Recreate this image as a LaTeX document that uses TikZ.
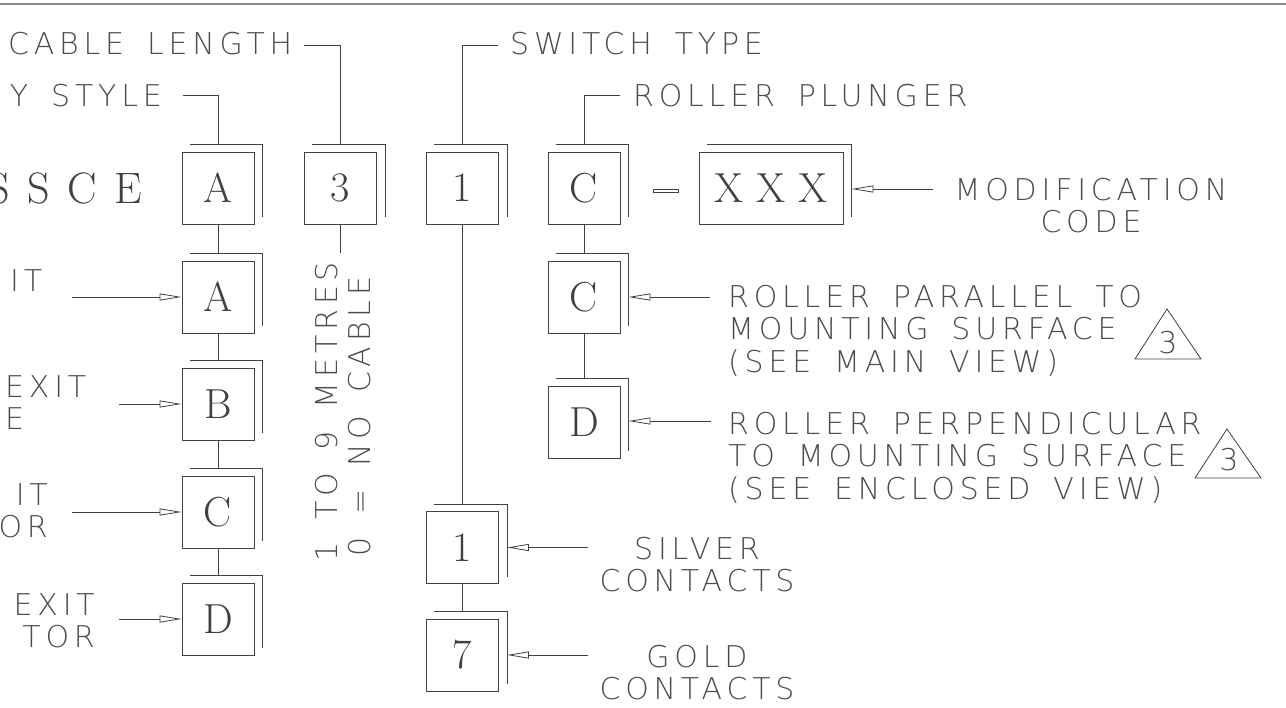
\documentclass[tikz,border=0pt]{standalone}
\usepackage{fontspec}
\usetikzlibrary{positioning,arrows.meta}
\newfontfamily\cadfont{DejaVuSans-ExtraLight.ttf}[LetterSpace=16, WordSpace=1.6]
\newfontfamily\romfont{Latin Modern Roman}
\newfontfamily\romwide{Latin Modern Roman}[LetterSpace=40]
\tikzset{
  lead/.style={draw=black!75, line width=0.8pt},
  pointer/.style={lead, -{Triangle[open, length=22pt, width=7pt]}},
  codebox/.style={draw=black!75, line width=0.8pt, minimum width=72pt, minimum height=72pt,
    inner sep=0pt, text=black!75, font=\romfont\fontsize{42}{42}\selectfont},
  romtext/.style={inner sep=0pt, text=black!75, font=\romwide\fontsize{44}{44}\selectfont},
  cadtext/.style={inner sep=0pt, text=black!70, font=\cadfont\fontsize{30}{32.5}\selectfont},
}
% second outline behind a code box
\newcommand{\boxback}[1]{\draw[lead] ([xshift=8pt,yshift=7pt]#1.north west) -| ([xshift=8pt,yshift=7pt]#1.south east);}

\begin{document}
\begin{tikzpicture}[x=1pt,y=-1pt]
\useasboundingbox (0,0) rectangle (1286,708);
\clip (0,0) rectangle (1286,708);
\draw[black!45, line width=1.2pt] (0,4) -- (1286,4);

% top row
\draw node (prefix) at (142,204) [romtext, anchor=base east]{SSCE};
\draw node (boxA) at (218,188) [codebox]{A};
\draw node (box3) at (340.5,188) [codebox]{3};
\draw node (box1) at (462.5,188) [codebox]{1};
\draw node (boxC) at (584,188) [codebox]{C};
\draw node (dash) at (665.5,191) [draw=black!75, line width=0.7pt, minimum width=25pt, minimum height=3.5pt, inner sep=0pt]{};
\draw node (boxX) at (771,188) [codebox, minimum width=144pt]{X X X};

% options
\draw node (boxA2) at (218,297) [codebox]{A};
\draw node (boxB) at (218,404) [codebox]{B};
\draw node (boxC3) at (218,512) [codebox]{C};
\draw node (boxD) at (218,619) [codebox]{D};
\draw node (boxC2) at (584,297) [codebox]{C};
\draw node (boxD2) at (584,422) [codebox]{D};
\draw node (box1b) at (462.5,547.5) [codebox]{1};
\draw node (box7) at (462.5,655) [codebox]{7};

\foreach \b in {boxA,box3,box1,boxC,boxX,boxA2,boxB,boxC3,boxD,boxC2,boxD2,box1b,box7}
  {\boxback{\b}}

% labels
\draw node (lenText) at (8,55) [cadtext, anchor=base west]{CABLE LENGTH};
\draw node (styleText) at (162,107) [cadtext, anchor=base east]{Y STYLE};
\draw node (switchText) at (510,55) [cadtext, anchor=base west]{SWITCH TYPE};
\draw node (plungerText) at (633,107) [cadtext, anchor=base west]{ROLLER PLUNGER};
\draw node (modText) at (1091,178) [cadtext, anchor=north, align=center]{MODIFICATION\\CODE};
\draw node (paraText) at (728,285) [cadtext, anchor=north west, align=left]{ROLLER PARALLEL TO\\MOUNTING SURFACE\\(SEE MAIN VIEW)};
\draw node (perpText) at (728,412) [cadtext, anchor=north west, align=left]{ROLLER PERPENDICULAR\\TO MOUNTING SURFACE\\(SEE ENCLOSED VIEW)};
\draw node (silverText) at (697,537) [cadtext, anchor=north, align=center]{SILVER\\CONTACTS};
\draw node (goldText) at (697,645) [cadtext, anchor=north, align=center]{GOLD\\CONTACTS};
\draw node (exitAText) at (10,269) [cadtext, anchor=north west]{IT};
\draw node (exitBText) at (5,375) [cadtext, anchor=north west, align=left]{EXIT\\E};
\draw node (exitCText) at (48,483) [cadtext, anchor=north east, align=right]{IT\\OR};
\draw node (exitDText) at (95,593) [cadtext, anchor=north east, align=right]{EXIT\\TOR};
\draw node (metreText) at (337,562) [cadtext, rotate=90, anchor=base west]{1 TO 9 METRES};
\draw node (noText) at (370,557) [cadtext, rotate=90, anchor=base west]{0 = NO CABLE};

% notes
\draw[lead] (1167,309) -- (1135,359) -- (1201,359) -- cycle;
\draw node (noteA) at (1168,343) [cadtext]{3};
\draw[lead] (1227,429) -- (1195,478) -- (1261,478) -- cycle;
\draw node (noteB) at (1229,460) [cadtext]{3};

% leaders
\coordinate (styleEnd) at (183,95);
\coordinate (lenEnd) at (304,45);
\coordinate (switchEnd) at (498,45);
\coordinate (plungerEnd) at (620,95);
\coordinate (metreEnd) at (340.5,253);
\draw[lead] ([yshift=7pt]boxA.north) |- (styleEnd)
  ([yshift=7pt]box3.north) |- (lenEnd)
  ([yshift=7pt]box1.north) |- (switchEnd)
  ([yshift=7pt]boxC.north) |- (plungerEnd)
  (box3.south) -- (metreEnd)
  (boxA.south) -- ([yshift=7pt]boxA2.north)
  (boxA2.south) -- ([yshift=7pt]boxB.north)
  (boxB.south) -- ([yshift=7pt]boxC3.north)
  (boxC3.south) -- ([yshift=7pt]boxD.north)
  (box1.south) -- ([yshift=7pt]box1b.north)
  (box1b.south) -- ([yshift=7pt]box7.north)
  (boxC.south) -- ([yshift=7pt]boxC2.north)
  (boxC2.south) -- ([yshift=7pt]boxD2.north);

% pointers
\coordinate (exitA) at (72,297);
\coordinate (exitB) at (119,404);
\coordinate (exitC) at (72,512);
\coordinate (exitD) at (119,619);
\coordinate (modFrom) at (933,189);
\coordinate (paraFrom) at (710,297);
\coordinate (perpFrom) at (711,421);
\coordinate (silverFrom) at (588,547.5);
\coordinate (goldFrom) at (588,655);
\draw[pointer] (exitA) -- (boxA2);
\draw[pointer] (exitB) -- (boxB);
\draw[pointer] (exitC) -- (boxC3);
\draw[pointer] (exitD) -- (boxD);
\draw[pointer] (modFrom) -- ([xshift=8pt]boxX.east |- modFrom);
\draw[pointer] (paraFrom) -- ([xshift=8pt]boxC2.east);
\draw[pointer] (perpFrom) -- ([xshift=8pt]boxD2.east |- perpFrom);
\draw[pointer] (silverFrom) -- ([xshift=8pt]box1b.east);
\draw[pointer] (goldFrom) -- ([xshift=8pt]box7.east);
\end{tikzpicture}
\end{document}
